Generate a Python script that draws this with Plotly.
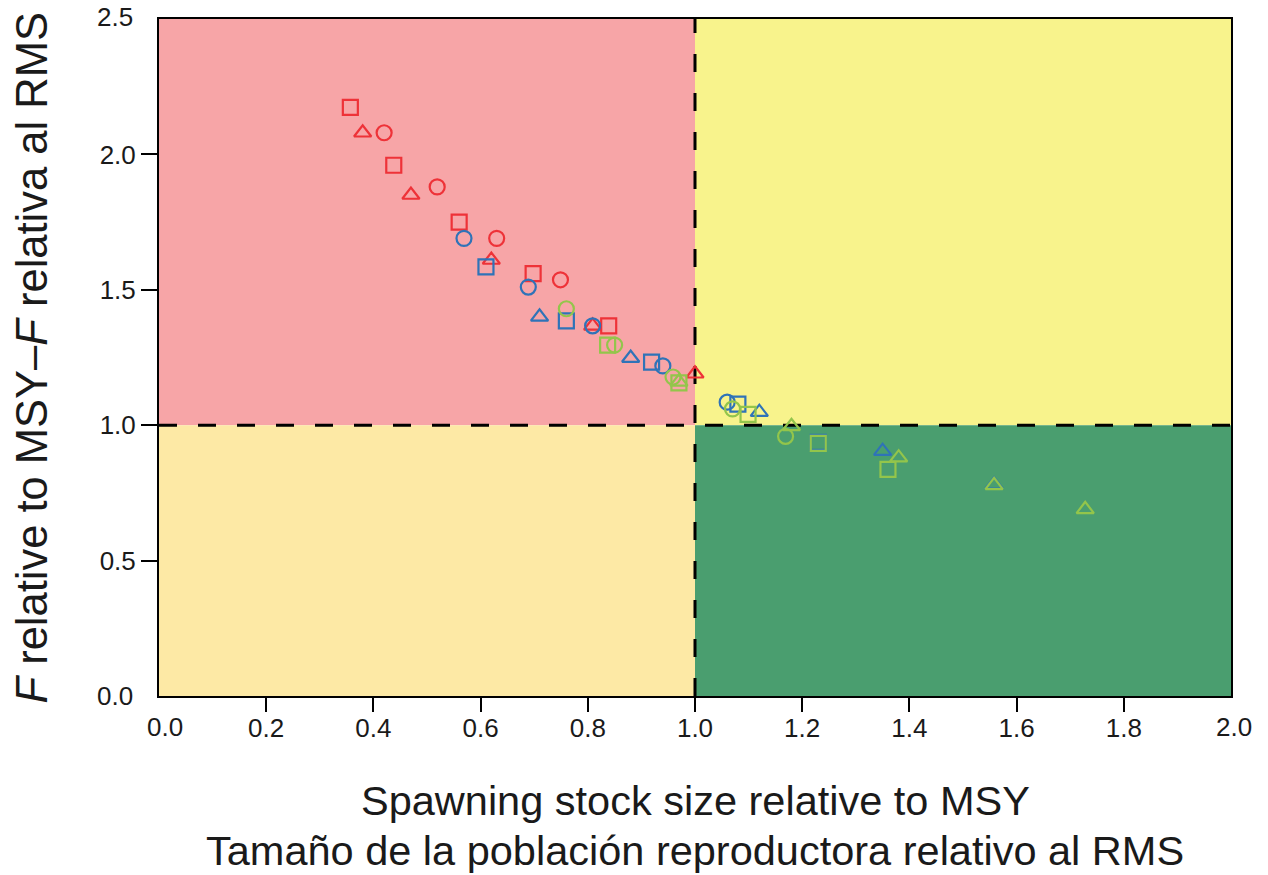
import plotly.graph_objects as go

# Data (x = SSB/SSB_MSY, y = F/F_MSY)
red_sq_x = [0.357, 0.438, 0.56, 0.698, 0.839]
red_sq_y = [2.174, 1.96, 1.75, 1.56, 1.367]
red_tri_x = [0.38, 0.47, 0.62, 0.809, 1.0]
red_tri_y = [2.08, 1.85, 1.61, 1.367, 1.19]
red_circ_x = [0.42, 0.519, 0.63, 0.749]
red_circ_y = [2.08, 1.88, 1.69, 1.537]

blue_circ_x = [0.569, 0.689, 0.809, 0.94, 1.06]
blue_circ_y = [1.69, 1.51, 1.367, 1.219, 1.085]
blue_sq_x = [0.61, 0.76, 0.919, 1.08, 1.23]
blue_sq_y = [1.585, 1.385, 1.233, 1.078, 0.937]
blue_tri_x = [0.71, 0.88, 1.12, 1.35, 1.558]
blue_tri_y = [1.40, 1.248, 1.048, 0.904, 0.78]

green_circ_x = [0.76, 0.85, 0.959, 1.07, 1.169]
green_circ_y = [1.43, 1.296, 1.178, 1.06, 0.959]
green_sq_x = [0.837, 0.97, 1.099, 1.23, 1.36]
green_sq_y = [1.296, 1.156, 1.04, 0.933, 0.837]
green_tri_x = [0.97, 1.18, 1.38, 1.558, 1.728]
green_tri_y = [1.16, 0.996, 0.88, 0.778, 0.689]

x_ticks = [0.0, 0.2, 0.4, 0.6, 0.8, 1.0, 1.2, 1.4, 1.6, 1.8, 2.0]
y_ticks = [0.0, 0.5, 1.0, 1.5, 2.0, 2.5]
# the reference draws tick marks only at interior values; end labels are plain text
x_inner = x_ticks[1:-1]
y_inner = y_ticks[1:-1]
X_RANGE = [x_ticks[0], x_ticks[-1]]
Y_RANGE = [y_ticks[0], y_ticks[-1]]

RED = "#EE3238"
BLUE = "#2F73B8"
GREEN = "#93C54B"

W, H = 1268, 875
M = dict(l=159, r=37, t=19, b=179)

fig = go.Figure()

def add(xs, ys, color, symbol):
    fig.add_trace(go.Scatter(
        x=xs, y=ys, mode="markers",
        marker=dict(symbol=symbol, size=15, color=color,
                    line=dict(color=color, width=2.2)),
        showlegend=False, hoverinfo="x+y"))

add(red_sq_x, red_sq_y, RED, "square-open")
add(red_tri_x, red_tri_y, RED, "triangle-up-open")
add(red_circ_x, red_circ_y, RED, "circle-open")
add(blue_circ_x, blue_circ_y, BLUE, "circle-open")
add(blue_sq_x, blue_sq_y, BLUE, "square-open")
add(blue_tri_x, blue_tri_y, BLUE, "triangle-up-open")
add(green_circ_x, green_circ_y, GREEN, "circle-open")
add(green_sq_x, green_sq_y, GREEN, "square-open")
add(green_tri_x, green_tri_y, GREEN, "triangle-up-open")

DASH = "18px,21px"
shapes = [
    dict(type="rect", xref="x", yref="y", x0=0, x1=1, y0=1, y1=2.5,
         fillcolor="#F7A5A7", line=dict(width=0), layer="below"),
    dict(type="rect", xref="x", yref="y", x0=1, x1=2, y0=1, y1=2.5,
         fillcolor="#F8F38C", line=dict(width=0), layer="below"),
    dict(type="rect", xref="x", yref="y", x0=0, x1=1, y0=0, y1=1,
         fillcolor="#FDE9A5", line=dict(width=0), layer="below"),
    dict(type="rect", xref="x", yref="y", x0=1, x1=2, y0=0, y1=1,
         fillcolor="#4A9E6F", line=dict(width=0), layer="below"),
    dict(type="line", xref="x", yref="y", x0=1, x1=1, y0=0, y1=2.5,
         line=dict(color="black", width=3, dash=DASH), layer="below"),
    dict(type="line", xref="x", yref="y", x0=0, x1=2, y0=1, y1=1,
         line=dict(color="black", width=3, dash=DASH), layer="below"),
]

TICK_FONT = dict(size=26, color="#1a1a1a")
annotations = [
    # end tick labels (no tick marks there in the reference)
    dict(text=f"{x_ticks[0]:.1f}", xref="x", yref="paper", x=x_ticks[0], y=0,
         xshift=6, yshift=-31, xanchor="center", yanchor="middle",
         showarrow=False, font=TICK_FONT),
    dict(text=f"{x_ticks[-1]:.1f}", xref="x", yref="paper", x=x_ticks[-1], y=0,
         xshift=3, yshift=-31, xanchor="center", yanchor="middle",
         showarrow=False, font=TICK_FONT),
    dict(text=f"{y_ticks[0]:.1f}", xref="paper", yref="y", x=0, y=y_ticks[0],
         xshift=-24, xanchor="right", yanchor="middle",
         showarrow=False, font=TICK_FONT),
    dict(text=f"{y_ticks[-1]:.1f}", xref="paper", yref="y", x=0, y=y_ticks[-1],
         xshift=-24, yshift=2, xanchor="right", yanchor="middle",
         showarrow=False, font=TICK_FONT),
    # axis titles
    dict(text="Spawning stock size relative to MSY",
         xref="paper", yref="paper", x=0.5, y=0, yshift=-104,
         xanchor="center", yanchor="middle", showarrow=False,
         font=dict(size=41.5)),
    dict(text="Tamaño de la población reproductora relativo al RMS",
         xref="paper", yref="paper", x=0.5, y=0, yshift=-154,
         xanchor="center", yanchor="middle", showarrow=False,
         font=dict(size=41.5)),
    dict(text="<i>F</i> relative to MSY–<i>F</i> relativa al RMS",
         xref="paper", yref="paper", x=0, xshift=-128, y=0.5, yshift=-1,
         xanchor="center", yanchor="middle", showarrow=False,
         textangle=-90, font=dict(size=43.5)),
]

fig.update_layout(
    width=W, height=H,
    margin=M,
    paper_bgcolor="white", plot_bgcolor="white",
    font=dict(family="Liberation Sans, Arial, sans-serif", color="#1a1a1a"),
    shapes=shapes,
    annotations=annotations,
    xaxis=dict(range=X_RANGE, tickvals=x_inner,
               ticktext=[f"{v:.1f}" for v in x_inner],
               ticks="outside", ticklen=14, tickwidth=2, tickcolor="black",
               ticklabelstandoff=-6, automargin=False,
               showgrid=False, zeroline=False, showline=True, linecolor="black",
               linewidth=2, mirror=True, tickfont=TICK_FONT),
    yaxis=dict(range=Y_RANGE, tickvals=y_inner,
               ticktext=[f"{v:.1f}" for v in y_inner],
               ticks="outside", ticklen=16, tickwidth=2, tickcolor="black",
               automargin=False,
               showgrid=False, zeroline=False, showline=True, linecolor="black",
               linewidth=2, mirror=True, tickfont=TICK_FONT),
)

fig.write_html("out.html",
               config={"displayModeBar": False},
               post_script="document.body.style.margin='0';")
